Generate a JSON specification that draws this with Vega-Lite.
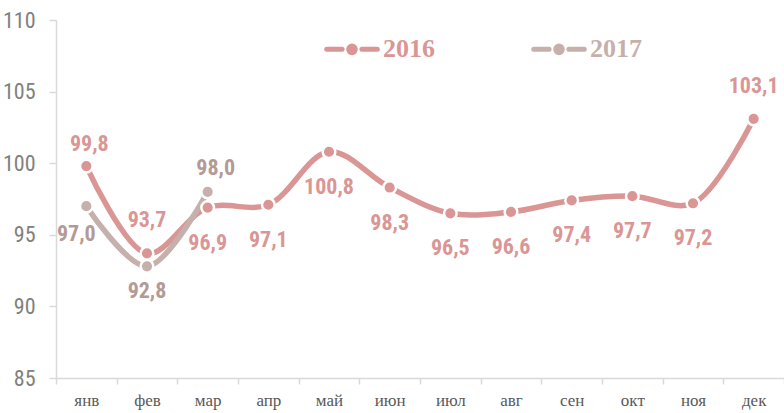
{
  "$schema": "https://vega.github.io/schema/vega-lite/v6.json",
  "width": 728,
  "height": 358,
  "autosize": {"type": "none"},
  "padding": {"left": 56, "top": 20, "right": 0, "bottom": 35},
  "background": "white",
  "config": {
    "view": {"stroke": null},
    "locale": {"number": {"decimal": ",", "thousands": " ", "grouping": [3], "currency": ["", " ₽"]}},
    "axis": {"grid": false, "title": null, "domainColor": "#d9d9d9", "domainWidth": 1.5, "tickColor": "#d9d9d9", "tickWidth": 1.5}
  },
  "data": {
    "values": [
      {"month": "янв", "year": "2016", "value": 99.8},
      {"month": "фев", "year": "2016", "value": 93.7},
      {"month": "мар", "year": "2016", "value": 96.9},
      {"month": "апр", "year": "2016", "value": 97.1},
      {"month": "май", "year": "2016", "value": 100.8},
      {"month": "июн", "year": "2016", "value": 98.3},
      {"month": "июл", "year": "2016", "value": 96.5},
      {"month": "авг", "year": "2016", "value": 96.6},
      {"month": "сен", "year": "2016", "value": 97.4},
      {"month": "окт", "year": "2016", "value": 97.7},
      {"month": "ноя", "year": "2016", "value": 97.2},
      {"month": "дек", "year": "2016", "value": 103.1},
      {"month": "янв", "year": "2017", "value": 97.0},
      {"month": "фев", "year": "2017", "value": 92.8},
      {"month": "мар", "year": "2017", "value": 98.0}
    ]
  },
  "encoding": {
    "x": {
      "field": "month", "type": "nominal",
      "sort": ["янв","фев","мар","апр","май","июн","июл","авг","сен","окт","ноя","дек"],
      "scale": {"paddingInner": 0, "paddingOuter": 0},
      "axis": {"labelAngle": 0, "tickBand": "extent", "tickSize": 6, "labelFont": "Liberation Serif", "labelFontSize": 17, "labelColor": "#595959", "labelPadding": 8}
    },
    "y": {
      "field": "value", "type": "quantitative",
      "scale": {"domain": [85, 110], "nice": false, "zero": false},
      "axis": {"values": [85, 90, 95, 100, 105, 110], "tickSize": 7, "labelPadding": 14, "labelFont": "Roboto Condensed, Roboto, sans-serif", "labelFontSize": 22, "labelColor": "#808080"}
    }
  },
  "layer": [
    {
      "mark": {"type": "line", "interpolate": "catmull-rom", "strokeWidth": 5.5, "strokeCap": "round"},
      "encoding": {
        "color": {
          "field": "year", "type": "nominal",
          "scale": {"domain": ["2016", "2017"], "range": ["#da9694", "#c6b0ac"]},
          "legend": {
            "title": null, "orient": "none", "direction": "horizontal", "legendX": 266, "legendY": -1,
            "padding": 0, "columnPadding": 88, "labelOffset": 1,
            "symbolType": "M-0.92,0L-0.36,0M0.36,0L0.92,0M-0.12,0A0.12,0.12 0 1,1 0.12,0A0.12,0.12 0 1,1 -0.12,0Z",
            "symbolSize": 3025, "symbolStrokeWidth": 5,
            "labelFont": "Liberation Serif", "labelFontWeight": "bold", "labelFontSize": 26,
            "encode": {
              "symbols": {"update": {"fill": {"scale": "color", "field": "value"}, "strokeCap": {"value": "round"}}},
              "labels": {"update": {"fill": {"scale": "color", "field": "value"}}}
            }
          }
        }
      }
    },
    {
      "mark": {"type": "point", "filled": true, "size": 160, "stroke": "white", "strokeWidth": 2.5, "opacity": 1, "shape": "circle"},
      "encoding": {
        "fill": {"field": "year", "type": "nominal", "scale": {"domain": ["2016", "2017"], "range": ["#da9694", "#c6b0ac"]}, "legend": null},
        "stroke": {"value": "white"}
      }
    },
    {
      "transform": [{"filter": "datum.year == '2016' && (datum.month == 'фев' || datum.month == 'дек')"}],
      "mark": {"type": "text", "dy": -33, "font": "Roboto Condensed, Roboto, sans-serif", "fontWeight": "bold", "fontSize": 22, "baseline": "middle", "color": "#da9694"},
      "encoding": {"text": {"field": "value", "type": "quantitative", "format": ".1f"}}
    },
    {
      "transform": [{"filter": "datum.year == '2016' && datum.month == 'янв'"}],
      "mark": {"type": "text", "dy": -22, "dx": 3, "font": "Roboto Condensed, Roboto, sans-serif", "fontWeight": "bold", "fontSize": 22, "baseline": "middle", "color": "#da9694"},
      "encoding": {"text": {"field": "value", "type": "quantitative", "format": ".1f"}}
    },
    {
      "transform": [{"filter": "datum.year == '2016' && datum.month != 'янв' && datum.month != 'фев' && datum.month != 'дек'"}],
      "mark": {"type": "text", "dy": 35, "font": "Roboto Condensed, Roboto, sans-serif", "fontWeight": "bold", "fontSize": 22, "baseline": "middle", "color": "#da9694"},
      "encoding": {"text": {"field": "value", "type": "quantitative", "format": ".1f"}}
    },
    {
      "transform": [{"filter": "datum.year == '2017' && datum.month == 'мар'"}],
      "mark": {"type": "text", "dy": -24, "dx": 8, "font": "Roboto Condensed, Roboto, sans-serif", "fontWeight": "bold", "fontSize": 22, "baseline": "middle", "color": "#b49a95"},
      "encoding": {"text": {"field": "value", "type": "quantitative", "format": ".1f"}}
    },
    {
      "transform": [{"filter": "datum.year == '2017' && datum.month == 'фев'"}],
      "mark": {"type": "text", "dy": 25, "font": "Roboto Condensed, Roboto, sans-serif", "fontWeight": "bold", "fontSize": 22, "baseline": "middle", "color": "#b49a95"},
      "encoding": {"text": {"field": "value", "type": "quantitative", "format": ".1f"}}
    },
    {
      "transform": [{"filter": "datum.year == '2017' && datum.month == 'янв'"}],
      "mark": {"type": "text", "dx": -10, "dy": 28, "font": "Roboto Condensed, Roboto, sans-serif", "fontWeight": "bold", "fontSize": 22, "baseline": "middle", "color": "#b49a95"},
      "encoding": {"text": {"field": "value", "type": "quantitative", "format": ".1f"}}
    }
  ]
}
